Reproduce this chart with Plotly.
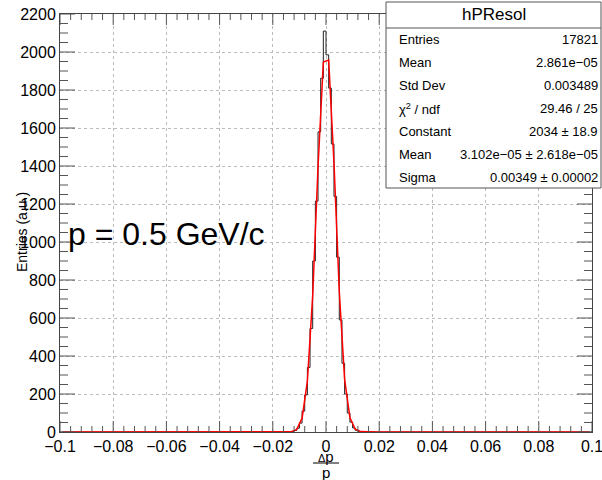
import numpy as np
import plotly.graph_objects as go

# ---------------- data ----------------
hist_name = "hPResol"
x_min, x_max = -0.1, 0.1
n_bins = 200
first_filled_edge = -0.014          # left edge of first non-empty bin
filled_counts = [1, 3, 8, 20, 47, 110, 195, 340, 545, 900, 1215, 1580, 1862, 2110,
                 1985, 1810, 1516, 1240, 920, 590, 362, 200, 100, 52, 21, 9, 3, 1]

fit_constant = 2034.0
fit_mean = 3.102e-05
fit_sigma = 0.00349
fit_npx = 100

stat_labels = ["Entries", "Mean", "Std Dev", "χ<sup>2</sup> / ndf", "Constant", "Mean", "Sigma"]
stat_values = ["17821", "2.861e−05", "0.003489", "29.46 / 25", "2034 ± 18.9",
               "3.102e−05 ± 2.618e−05", "0.00349 ± 0.00002"]

x_major_step, x_minor_step = 0.02, 0.004
y_range = [0, 2200]
y_major_step, y_minor_step = 200, 50

label_text = "p = 0.5 GeV/c"
y_title = "Entries (a.u.)"

# ---------------- build histogram step ----------------
bw = (x_max - x_min) / n_bins
counts = np.zeros(n_bins)
i0 = int(round((first_filled_edge - x_min) / bw))
counts[i0:i0 + len(filled_counts)] = filled_counts
edges = x_min + bw * np.arange(n_bins + 1)
step_x = edges
step_y = np.append(counts, counts[-1])

# fit function drawn at npx points (bin-centred like ROOT)
dxf = (x_max - x_min) / fit_npx
fx = x_min + dxf * (np.arange(fit_npx) + 0.5)
fy = fit_constant * np.exp(-0.5 * ((fx - fit_mean) / fit_sigma) ** 2)

# ---------------- layout helpers ----------------
W, H = 602, 480
L, R, T, B = 60, 10, 14, 48
pw, ph = W - L - R, H - T - B

def px(xp):
    return (xp - L) / pw

def py(yp):
    return (H - B - yp) / ph

FONT = "Liberation Sans, Arial, Helvetica, sans-serif"
axis_col = "#444444"
tick_col = "#555555"

fig = go.Figure()
fig.add_trace(go.Scatter(x=step_x, y=step_y, mode="lines", line_shape="hv",
                         line=dict(color="#222222", width=1), showlegend=False,
                         hoverinfo="skip"))
fig.add_trace(go.Scatter(x=fx, y=fy, mode="lines",
                         line=dict(color="#ff0000", width=1.5), showlegend=False,
                         hoverinfo="skip"))

common = dict(showline=True, linecolor=axis_col, linewidth=1, mirror=True,
              ticks="", showgrid=True, automargin=False,
              gridcolor="#bbbbbb", griddash="dot", gridwidth=1, zeroline=False,
              tickfont=dict(family=FONT, size=16, color="black"))

fig.update_xaxes(range=[x_min - 1e-9, x_max + 1e-9], tickmode="linear", tick0=x_min,
                 dtick=x_major_step, ticklabeloverflow="allow", **common)
fig.update_yaxes(range=y_range, tickmode="linear", tick0=0, dtick=y_major_step, **common)

shapes = []
annotations = []

# tick marks drawn inside the frame on all four sides (ROOT style)
x_major_len, x_minor_len = 11, 6
y_major_len, y_minor_len = 15, 8
n_xt = int(round((x_max - x_min) / x_minor_step))
for k in range(n_xt + 1):
    xv = x_min + k * x_minor_step
    ln = x_major_len if k % 5 == 0 else x_minor_len
    for base, sgn in ((0.0, 1), (1.0, -1)):
        shapes.append(dict(type="line", xref="x", yref="paper", x0=xv, x1=xv,
                           y0=base, y1=base + sgn * ln / ph,
                           line=dict(color=tick_col, width=1)))
n_yt = int(round((y_range[1] - y_range[0]) / y_minor_step))
for k in range(n_yt + 1):
    yv = y_range[0] + k * y_minor_step
    ln = y_major_len if k % 4 == 0 else y_minor_len
    for base, sgn in ((0.0, 1), (1.0, -1)):
        shapes.append(dict(type="line", xref="paper", yref="y", y0=yv, y1=yv,
                           x0=base, x1=base + sgn * ln / pw,
                           line=dict(color=tick_col, width=1)))

# stats box
bx0, bx1, by_top, by_bot, by_sep = 386, 601, 2, 188, 28
shapes.append(dict(type="rect", xref="paper", yref="paper", x0=px(bx0), x1=px(bx1),
                   y0=py(by_bot), y1=py(by_top), line=dict(color="#555555", width=1),
                   fillcolor="white", layer="above"))
shapes.append(dict(type="line", xref="paper", yref="paper", x0=px(bx0), x1=px(bx1),
                   y0=py(by_sep), y1=py(by_sep), line=dict(color="#555555", width=1),
                   layer="above"))
annotations.append(dict(xref="paper", yref="paper", x=px((bx0 + bx1) / 2), y=py(15),
                        text=hist_name, showarrow=False, xanchor="center", yanchor="middle",
                        font=dict(family=FONT, size=17, color="black")))
row_y0, row_dy = 39.5, 23
for i, (lab, val) in enumerate(zip(stat_labels, stat_values)):
    yy = py(row_y0 + i * row_dy)
    annotations.append(dict(xref="paper", yref="paper", x=px(397), y=yy, text=lab,
                            showarrow=False, xanchor="left", yanchor="middle",
                            font=dict(family=FONT, size=13, color="black")))
    annotations.append(dict(xref="paper", yref="paper", x=px(600), y=yy, text=val,
                            showarrow=False, xanchor="right", yanchor="middle",
                            font=dict(family=FONT, size=13, color="black")))

# big label
annotations.append(dict(xref="paper", yref="paper", x=px(66), y=py(234), text=label_text,
                        showarrow=False, xanchor="left", yanchor="middle",
                        font=dict(family=FONT, size=32, color="black")))

# y title
annotations.append(dict(xref="paper", yref="paper", x=px(22), y=py(232), text=y_title,
                        textangle=-90, showarrow=False, xanchor="center", yanchor="middle",
                        font=dict(family=FONT, size=14, color="black")))

# x title as fraction Δp / p
annotations.append(dict(xref="paper", yref="paper", x=px(326), y=py(456),
                        text="<span style='font-size:11px'>Δ</span>p",
                        showarrow=False, xanchor="center", yanchor="middle",
                        font=dict(family=FONT, size=15, color="black")))
shapes.append(dict(type="line", xref="paper", yref="paper", x0=px(313), x1=px(339),
                   y0=py(463), y1=py(463), line=dict(color="black", width=1)))
annotations.append(dict(xref="paper", yref="paper", x=px(326), y=py(472), text="p",
                        showarrow=False, xanchor="center", yanchor="middle",
                        font=dict(family=FONT, size=15, color="black")))

fig.update_layout(width=W, height=H, margin=dict(l=L, r=R, t=T, b=B, pad=0),
                  paper_bgcolor="white", plot_bgcolor="white",
                  shapes=shapes, annotations=annotations, showlegend=False,
                  font=dict(family=FONT))

fig.write_html("out.html")
